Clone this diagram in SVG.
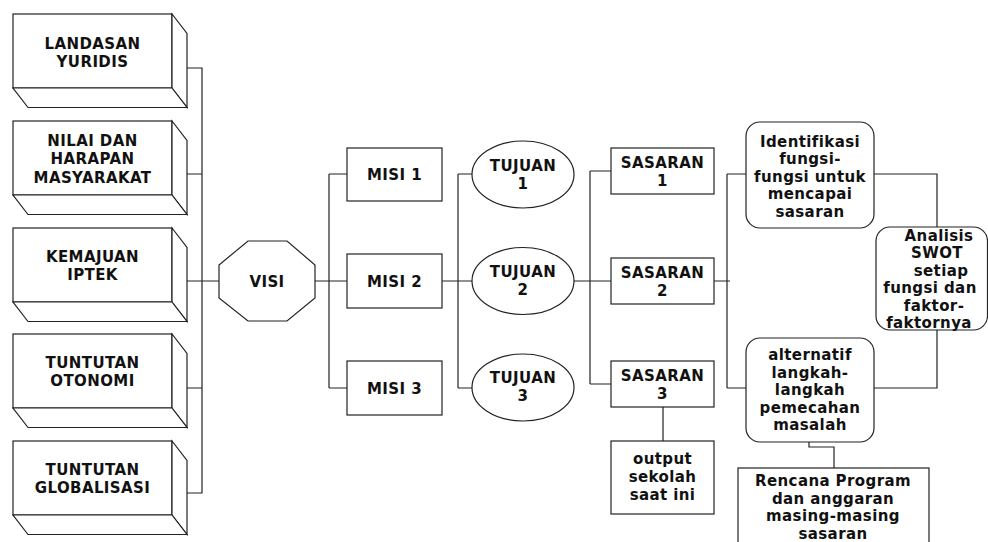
<svg xmlns="http://www.w3.org/2000/svg" width="988" height="542" viewBox="0 0 988 542">
<style>
.s{fill:#fff;stroke:#222;stroke-width:1.2}
.c{fill:none;stroke:#222;stroke-width:1.2}
text{font-family:"DejaVu Sans","Verdana",sans-serif;font-weight:bold;font-size:15px;letter-spacing:0.4px;fill:#111;text-anchor:middle}
</style>
<defs>
<g id="cube">
<rect class="s" x="0" y="0" width="159" height="74"/>
<path class="s" d="M159,0 L174,19.5 L174,93.5 L159,74 Z"/>
<path class="s" d="M0,74 L159,74 L174,93.5 L15,93.5 Z"/>
</g>
</defs>
<g id="connectors">
<path class="c" d="M187,68 H202 V493 H187 M187,174 H202 M187,281 H219 M187,388 H202"/>
<path class="c" d="M315,281 H347 M329,174 V388 M329,174 H347 M329,388 H347"/>
<path class="c" d="M442,281 H472 M458,174 V388 M458,174 H472 M458,388 H472"/>
<path class="c" d="M568,281 H611 M590,171 V384 M590,171 H611 M590,384 H611"/>
<path class="c" d="M663,407 V441"/>
<path class="c" d="M714,281 H730 M727,174 V388 M727,174 H746 M727,388 H746"/>
<path class="c" d="M874,174 H937 V227 M937,330 V388 H874"/>
<path class="c" d="M809,442 V447 H834 V468"/>
</g>
<g id="landasan"><use href="#cube" x="13" y="14"/><text x="92.5" y="48.5">LANDASAN</text><text x="92.5" y="66.5">YURIDIS</text></g>
<g id="nilai"><use href="#cube" x="13" y="121"/><text x="92.5" y="145.5">NILAI DAN</text><text x="92.5" y="164">HARAPAN</text><text x="92.5" y="182.5">MASYARAKAT</text></g>
<g id="iptek"><use href="#cube" x="13" y="228"/><text x="92.5" y="261.5">KEMAJUAN</text><text x="92.5" y="279.5">IPTEK</text></g>
<g id="otonomi"><use href="#cube" x="13" y="334"/><text x="92.5" y="367.5">TUNTUTAN</text><text x="92.5" y="385.5">OTONOMI</text></g>
<g id="globalisasi"><use href="#cube" x="13" y="441"/><text x="92.5" y="474.5">TUNTUTAN</text><text x="92.5" y="492.5">GLOBALISASI</text></g>
<g id="visi"><polygon class="s" points="248,241 287,241 315,265 315,298 287,321 248,321 219,298 219,265"/><text x="267" y="286.5">VISI</text></g>
<g id="misi1"><rect class="s" x="347" y="148" width="95" height="53"/><text x="394.5" y="179.5">MISI 1</text></g>
<g id="misi2"><rect class="s" x="347" y="254" width="95" height="54"/><text x="394.5" y="286.5">MISI 2</text></g>
<g id="misi3"><rect class="s" x="347" y="361" width="95" height="54"/><text x="394.5" y="393.5">MISI 3</text></g>
<g id="tujuan1"><ellipse class="s" cx="523" cy="174.5" rx="51" ry="33.5"/><text x="523" y="170.5">TUJUAN</text><text x="523" y="188.5">1</text></g>
<g id="tujuan2"><ellipse class="s" cx="523" cy="281" rx="51" ry="33.5"/><text x="523" y="277">TUJUAN</text><text x="523" y="295">2</text></g>
<g id="tujuan3"><ellipse class="s" cx="523" cy="387.5" rx="51" ry="33.5"/><text x="523" y="383">TUJUAN</text><text x="523" y="401">3</text></g>
<g id="sasaran1"><rect class="s" x="611" y="148" width="103" height="46"/><text x="662.5" y="167.5">SASARAN</text><text x="662.5" y="185.5">1</text></g>
<g id="sasaran2"><rect class="s" x="611" y="258" width="103" height="46"/><text x="662.5" y="277.5">SASARAN</text><text x="662.5" y="295.5">2</text></g>
<g id="sasaran3"><rect class="s" x="611" y="361" width="103" height="46"/><text x="662.5" y="381">SASARAN</text><text x="662.5" y="399">3</text></g>
<g id="output"><rect class="s" x="611" y="441" width="103" height="73"/><text x="662.5" y="464">output</text><text x="662.5" y="482">sekolah</text><text x="662.5" y="500">saat ini</text></g>
<g id="identifikasi"><rect class="s" x="746" y="122" width="128" height="106" rx="14"/><text x="810" y="146.5">Identifikasi</text><text x="810" y="164">fungsi-</text><text x="810" y="181.5">fungsi untuk</text><text x="810" y="199">mencapai</text><text x="810" y="216.5">sasaran</text></g>
<g id="analisis"><rect class="s" x="876" y="227" width="111.5" height="103" rx="14"/><text x="939" y="240.5">Analisis</text><text x="937" y="258">SWOT</text><text x="941" y="275.5">setiap</text><text x="930" y="293">fungsi dan</text><text x="934" y="310.5">faktor-</text><text x="929" y="328">faktornya</text></g>
<g id="alternatif"><rect class="s" x="746" y="338" width="128" height="104" rx="14"/><text x="810" y="360">alternatif</text><text x="810" y="377.5">langkah-</text><text x="810" y="395">langkah</text><text x="810" y="412.5">pemecahan</text><text x="810" y="430">masalah</text></g>
<g id="rencana"><rect class="s" x="738" y="468" width="191" height="80"/><text x="833" y="486">Rencana Program</text><text x="833" y="503.5">dan anggaran</text><text x="833" y="521">masing-masing</text><text x="833" y="538.5">sasaran</text></g>
</svg>
